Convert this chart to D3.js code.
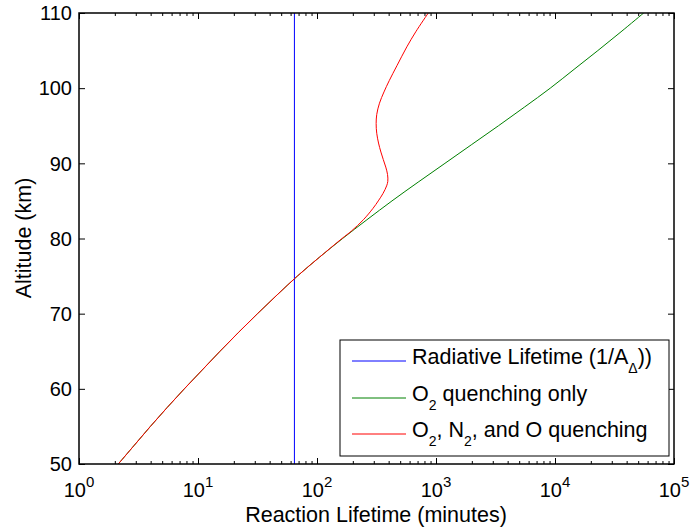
<!DOCTYPE html>
<html>
<head>
<meta charset="utf-8">
<script src="https://cdn.jsdelivr.net/npm/d3@7"></script>
<style>
  body { margin: 0; background: #fff; }
  svg { display: block; font-family: "Liberation Sans", Arial, Helvetica, sans-serif; }
</style>
</head>
<body>
<svg id="chart" width="692" height="529"></svg>
<script>
// Altitude grid (km) for the O2-only quenching curve
const altitudes = [50, 52.5, 55, 57.5, 60, 62.5, 65, 67.5, 70, 72.5, 75, 77.5, 80,
                   82.5, 85, 87.5, 90, 92.5, 95, 97.5, 100, 102.5, 105, 107.5, 110];
// Reaction lifetime (minutes) with O2 quenching only
const o2Only = [2.138, 2.917, 3.981, 5.495, 7.674, 10.84, 15.31, 21.88, 31.62, 46.24, 68.39,
                104.7, 164.1, 263.0, 426.6, 707.9, 1189, 1995, 3350, 5559, 9120, 14454,
                22909, 35892, 55590];

// Altitude grid (km) for the full quenching curve
const fullAlt = [50, 52.5, 55, 57.5, 60, 62.5, 65, 67.5, 70, 72.5, 75, 77.5, 80,
                 81, 82.5, 84, 85, 86, 87, 87.6, 88.5, 89.5, 90.5, 91.5, 92.7, 94,
                 95.3, 96.5, 98, 99.5, 101, 103, 105.5, 107.5, 110];
// Reaction lifetime (minutes) with O2, N2 and O quenching
const fullQuench = [2.138, 2.917, 3.981, 5.495, 7.674, 10.84, 15.31, 21.88, 31.62, 46.24, 68.39,
                    104.7, 162.2, 195.0, 245.5, 295.1, 327.3, 358.9, 384.6, 393.6, 391.7,
                    378.4, 360.6, 344.4, 328.9, 317.7, 314.1, 317.7, 335.0, 365.6, 404.6,
                    469.9, 568.9, 676.1, 861.0];

// Radiative lifetime 1/A (minutes)
const radiativeLifetime = 64.6;

const xTickExponents = [0, 1, 2, 3, 4, 5];
const yTickValues = [50, 60, 70, 80, 90, 100, 110];
const legendLabels = [
  [["Radiative Lifetime (1/A", 0], ["\u0394", 1], ["))", 0]],
  [["O", 0], ["2", 1], [" quenching only", 0]],
  [["O", 0], ["2", 1], [", N", 0], ["2", 1], [", and O quenching", 0]]
];
const seriesColors = ["#0000ff", "#008000", "#ff0000"];

const svg = d3.select("#chart");
const L = 79, R = 674, T = 13, B = 464;

const x = d3.scaleLog().domain([1, 1e5]).range([L, R]);
const y = d3.scaleLinear().domain([50, 110]).range([B, T]);

const majors = xTickExponents.map(e => Math.pow(10, e));
const minors = [];
for (let e = 0; e < 5; e++) for (let k = 2; k <= 9; k++) minors.push(k * Math.pow(10, e));

// clip region for the data lines
svg.append("defs").append("clipPath").attr("id", "plot")
  .append("rect").attr("x", L).attr("y", T).attr("width", R - L).attr("height", B - T);

const data = svg.append("g").attr("clip-path", "url(#plot)");

// radiative lifetime: vertical line
data.append("line")
  .attr("x1", x(radiativeLifetime)).attr("x2", x(radiativeLifetime))
  .attr("y1", y(50)).attr("y2", y(110))
  .attr("stroke", seriesColors[0]).attr("stroke-width", 1);

const line = d3.line().curve(d3.curveCatmullRom.alpha(0.5));

data.append("path")
  .attr("d", line(altitudes.map((a, i) => [x(o2Only[i]), y(a)])))
  .attr("fill", "none").attr("stroke", seriesColors[1]).attr("stroke-width", 1);

data.append("path")
  .attr("d", line(fullAlt.map((a, i) => [x(fullQuench[i]), y(a)])))
  .attr("fill", "none").attr("stroke", seriesColors[2]).attr("stroke-width", 1);

// tick marks on all four sides, pointing inward
function ticks(axis, tr) {
  const g = svg.append("g").attr("transform", tr).call(axis);
  g.select(".domain").remove();
  g.selectAll(".tick line").attr("stroke", "#000").attr("stroke-width", 1);
  g.selectAll(".tick text").remove();
  return g;
}
ticks(d3.axisBottom(x).tickValues(majors).tickSize(-6).tickSizeOuter(0), `translate(0,${B})`);
ticks(d3.axisBottom(x).tickValues(minors).tickSize(-3).tickSizeOuter(0), `translate(0,${B})`);
ticks(d3.axisTop(x).tickValues(majors).tickSize(-6).tickSizeOuter(0), `translate(0,${T})`);
ticks(d3.axisTop(x).tickValues(minors).tickSize(-3).tickSizeOuter(0), `translate(0,${T})`);
ticks(d3.axisLeft(y).tickValues(yTickValues).tickSize(-6).tickSizeOuter(0), `translate(${L},0)`);
ticks(d3.axisRight(y).tickValues(yTickValues).tickSize(-6).tickSizeOuter(0), `translate(${R},0)`);

// frame
svg.append("rect").attr("x", L).attr("y", T).attr("width", R - L).attr("height", B - T)
  .attr("fill", "none").attr("stroke", "#000").attr("stroke-width", 1.5);

// x tick labels as powers of ten
xTickExponents.forEach(e => {
  const t = svg.append("text").attr("x", x(Math.pow(10, e))).attr("y", 497)
    .attr("text-anchor", "middle").attr("font-size", 20).attr("fill", "#000");
  t.append("tspan").text("10");
  t.append("tspan").attr("dy", -10).attr("font-size", 15).text(e);
});

// y tick labels
yTickValues.forEach(v => {
  svg.append("text").attr("x", 72).attr("y", y(v) + 7.3)
    .attr("text-anchor", "end").attr("font-size", 20).attr("fill", "#000").text(v);
});

// axis titles
svg.append("text").attr("x", 376).attr("y", 522).attr("text-anchor", "middle")
  .attr("font-size", 21.5).text("Reaction Lifetime (minutes)");
svg.append("text").attr("transform", "translate(31,238) rotate(-90)")
  .attr("text-anchor", "middle").attr("font-size", 21.5).text("Altitude (km)");

// legend
const lg = svg.append("g");
lg.append("rect").attr("x", 340).attr("y", 340).attr("width", 329).attr("height", 116)
  .attr("fill", "#fff").attr("stroke", "#000").attr("stroke-width", 1);
const rowY = [361, 398, 434];
legendLabels.forEach((parts, i) => {
  lg.append("line").attr("x1", 352).attr("x2", 406).attr("y1", rowY[i]).attr("y2", rowY[i])
    .attr("stroke", seriesColors[i]).attr("stroke-width", 1);
  const t = lg.append("text").attr("x", 412).attr("y", rowY[i] + 2.5)
    .attr("font-size", 21.5).attr("fill", "#000");
  let down = 0;
  parts.forEach(([s, sub]) => {
    const dy = sub ? 9.5 - down : -down;
    down = sub ? 9.5 : 0;
    const ts = t.append("tspan").attr("dy", dy).text(s);
    if (sub) ts.attr("font-size", 14);
  });
});
</script>
</body>
</html>
